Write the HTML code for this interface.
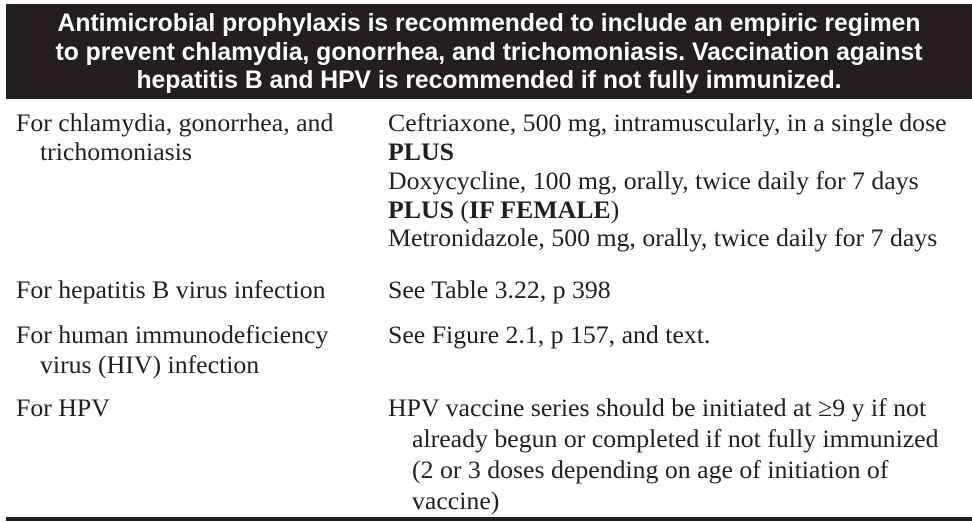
<!DOCTYPE html>
<html><head><meta charset="utf-8"><style>
body{margin:0;width:972px;height:522px;background:#fff;position:relative;overflow:hidden}
#hdr{position:absolute;left:6px;top:4px;width:966px;height:95px;background:#231f20}
.h{position:absolute;left:6px;width:966px;text-align:center;color:#fff;font:bold 24.7px "Liberation Sans",sans-serif;white-space:nowrap;line-height:28px}
.t{position:absolute;font:25.8px "Liberation Serif",serif;color:#231f20;white-space:nowrap;line-height:30px}
.b{font-weight:bold}
#rule{position:absolute;left:6px;top:517px;width:966px;height:4px;background:#231f20}
</style></head><body>
<div id="hdr"></div>
<div class="h" style="top:10px">Antimicrobial prophylaxis is recommended to include an empiric regimen</div>
<div class="h" style="top:39px">to prevent chlamydia, gonorrhea, and trichomoniasis. Vaccination against</div>
<div class="h" style="top:67px">hepatitis B and HPV is recommended if not fully immunized.</div>

<div class="t" style="left:16px;top:108px">For chlamydia, gonorrhea, and</div>
<div class="t" style="left:40px;top:137px">trichomoniasis</div>
<div class="t" style="left:388px;top:108px">Ceftriaxone, 500 mg, intramuscularly, in a single dose</div>
<div class="t b" style="left:388px;top:137px">PLUS</div>
<div class="t" style="left:388px;top:166px">Doxycycline, 100 mg, orally, twice daily for 7 days</div>
<div class="t" style="left:388px;top:195px"><b>PLUS</b> (<b>IF FEMALE</b>)</div>
<div class="t" style="left:388px;top:223px">Metronidazole, 500 mg, orally, twice daily for 7 days</div>

<div class="t" style="left:16px;top:275px">For hepatitis B virus infection</div>
<div class="t" style="left:388px;top:275px">See Table 3.22, p 398</div>

<div class="t" style="left:16px;top:320px">For human immunodeficiency</div>
<div class="t" style="left:40px;top:350px">virus (HIV) infection</div>
<div class="t" style="left:388px;top:320px">See Figure 2.1, p 157, and text.</div>

<div class="t" style="left:16px;top:393px">For HPV</div>
<div class="t" style="left:388px;top:393px">HPV vaccine series should be initiated at ≥9 y if not</div>
<div class="t" style="left:412px;top:424px">already begun or completed if not fully immunized</div>
<div class="t" style="left:412px;top:455px">(2 or 3 doses depending on age of initiation of</div>
<div class="t" style="left:412px;top:486px">vaccine)</div>
<div id="rule"></div>
</body></html>
